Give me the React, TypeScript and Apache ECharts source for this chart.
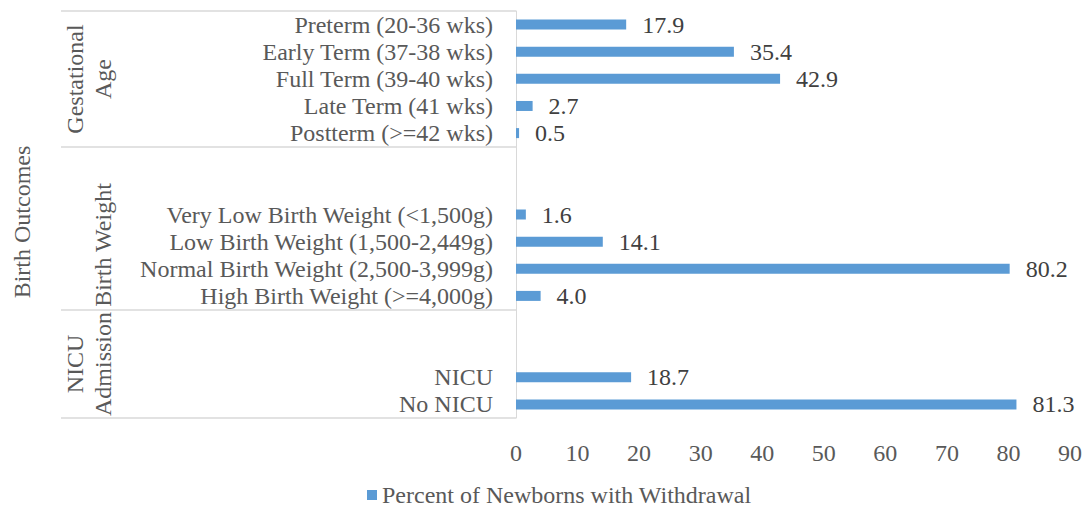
import { useEffect, useRef } from "react";
import * as echarts from "echarts";

// Category rows, top to bottom; blank entries are spacer rows inside a group.
const categories = [
  "Preterm (20-36 wks)",
  "Early Term (37-38 wks)",
  "Full Term (39-40 wks)",
  "Late Term (41 wks)",
  "Postterm (>=42 wks)",
  "",
  "",
  "Very Low Birth Weight (<1,500g)",
  "Low Birth Weight (1,500-2,449g)",
  "Normal Birth Weight (2,500-3,999g)",
  "High Birth Weight (>=4,000g)",
  "",
  "",
  "NICU",
  "No NICU",
];

const percentValues: (number | null)[] = [
  17.9, 35.4, 42.9, 2.7, 0.5, null, null, 1.6, 14.1, 80.2, 4.0, null, null, 18.7, 81.3,
];

// First row index of each outcome group.
const groupStarts = [0, 5, 11];
const groupNames = ["Gestational\nAge", "\nBirth Weight", "NICU\nAdmission"];

const seriesName = "Percent of Newborns with Withdrawal";
const axisTitle = "Birth Outcomes";

const FONT = "Liberation Serif";
const SIZE = 24;
const TEXT = "#595959";
const LINE = "#d9d9d9";
const BAR = "#5b9bd5";

export default function App() {
  const ref = useRef<HTMLDivElement>(null);

  useEffect(() => {
    if (!ref.current) return;
    const chart = echarts.init(ref.current, undefined, { renderer: "svg" });

    chart.setOption({
      animation: false,
      grid: { left: 516, right: 17, top: 11, bottom: 90, containLabel: false },
      legend: {
        data: [seriesName],
        left: 362,
        top: 478,
        icon: "rect",
        itemWidth: 10,
        itemHeight: 10,
        textStyle: { fontFamily: FONT, fontSize: SIZE, color: TEXT },
      },
      xAxis: {
        type: "value",
        min: 0,
        max: 90,
        interval: 10,
        axisLine: { show: false },
        axisTick: { show: false },
        splitLine: { show: false },
        axisLabel: { margin: 23, fontFamily: FONT, fontSize: SIZE, color: TEXT },
      },
      yAxis: {
        type: "category",
        data: categories,
        inverse: true,
        axisLine: { show: true, lineStyle: { color: LINE, width: 1 } },
        axisTick: {
          show: true,
          length: 455,
          interval: (index: number) => groupStarts.includes(index),
          lineStyle: { color: LINE, width: 1.5 },
        },
        axisLabel: { margin: 23, fontFamily: FONT, fontSize: SIZE, color: TEXT, interval: 0 },
      },
      series: [
        {
          name: seriesName,
          type: "bar",
          data: percentValues,
          barWidth: 10,
          itemStyle: { color: BAR },
          label: {
            show: true,
            position: "right",
            distance: 16,
            fontFamily: FONT,
            fontSize: SIZE,
            color: "#404040",
            formatter: (p: any) => (p.value == null ? "" : Number(p.value).toFixed(1)),
          },
        },
      ],
    });

    // Group captions and the outer axis title, placed beside the category labels.
    const groupY = [79, 245, 364];
    chart.setOption({
      graphic: [
        ...groupNames.map((name, i) => ({
          type: "text",
          x: 89,
          y: groupY[i],
          rotation: Math.PI / 2,
          style: {
            text: name,
            fontFamily: FONT,
            fontSize: SIZE,
            fill: TEXT,
            align: "center",
            verticalAlign: "middle",
            lineHeight: 28,
          },
        })),
        {
          type: "text",
          x: 22,
          y: 222,
          rotation: Math.PI / 2,
          style: {
            text: axisTitle,
            fontFamily: FONT,
            fontSize: SIZE,
            fill: TEXT,
            align: "center",
            verticalAlign: "middle",
          },
        },
      ],
    });

    return () => chart.dispose();
  }, []);

  return (
    <div
      ref={ref}
      style={{ position: "absolute", left: 0, top: 0, width: 1087, height: 508 }}
    />
  );
}
